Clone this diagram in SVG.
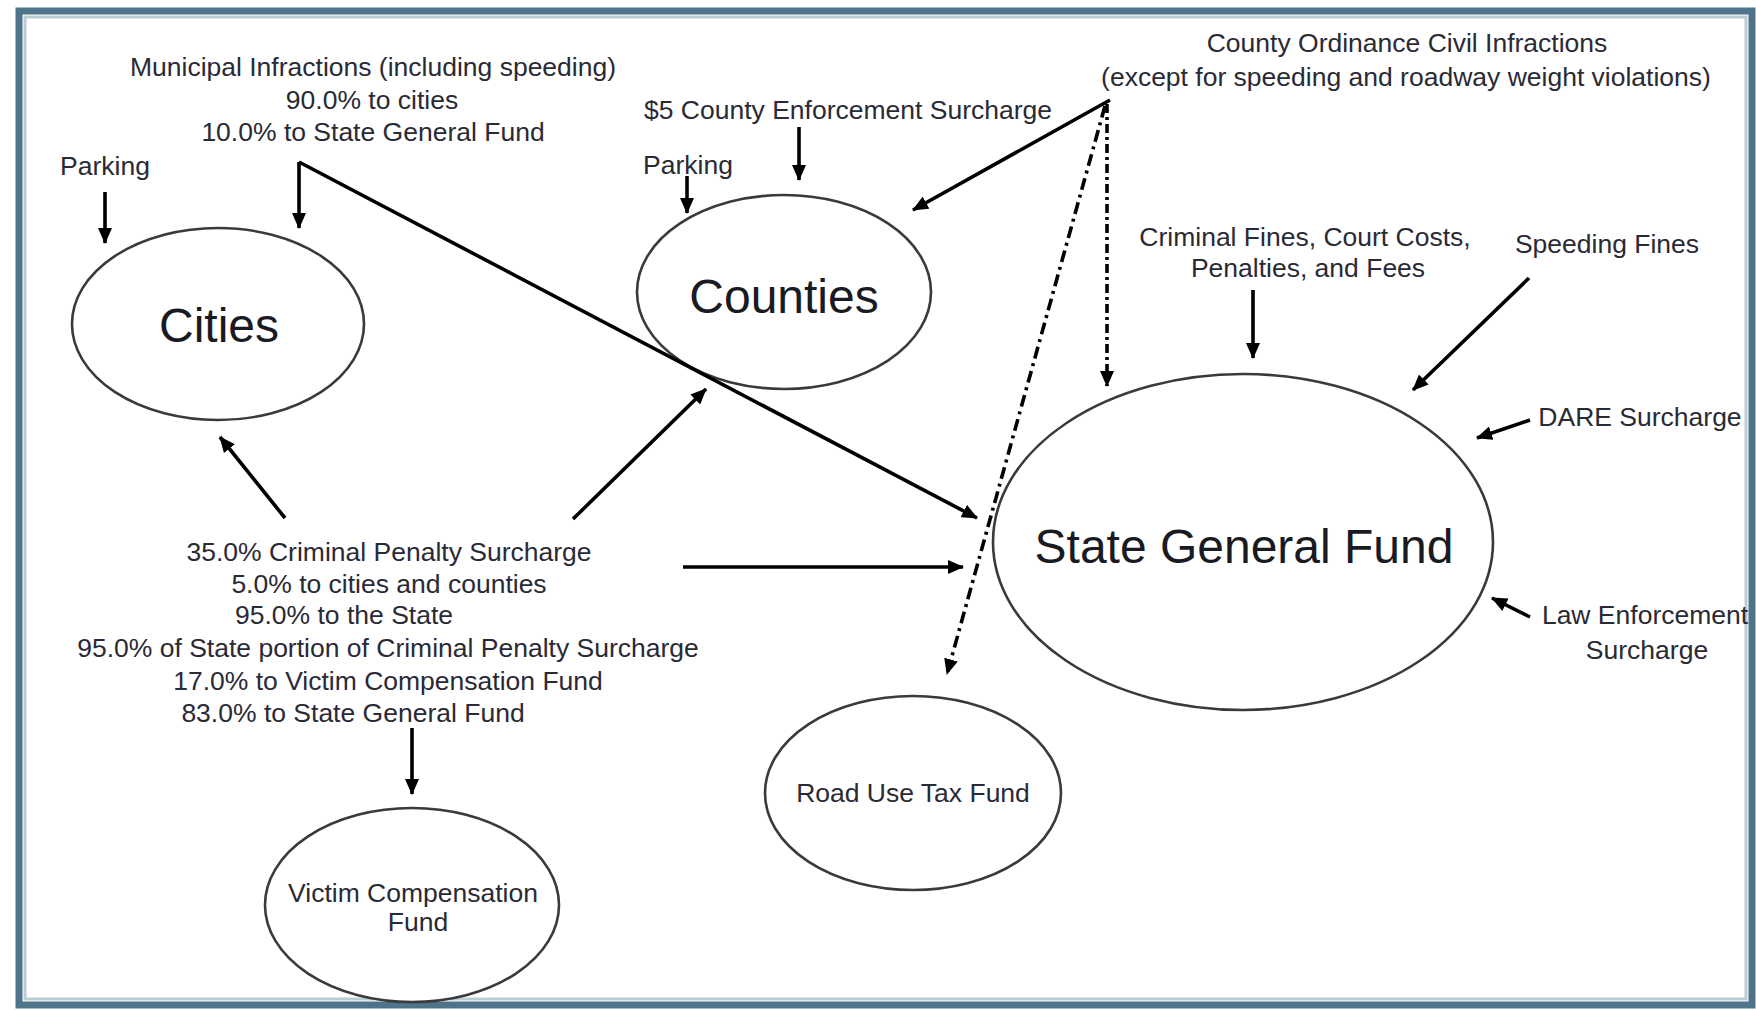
<svg xmlns="http://www.w3.org/2000/svg" width="1756" height="1010" viewBox="0 0 1756 1010">
<defs>
<marker id="ah" markerUnits="userSpaceOnUse" markerWidth="16" markerHeight="14" refX="15" refY="7" orient="auto">
<path d="M0,0 L16,7 L0,14 Z" fill="#000"/>
</marker>
<style>
.t{font-family:"Liberation Sans",Arial,sans-serif;font-size:26.5px;fill:#2a2a35;text-anchor:middle}
.big{font-family:"Liberation Sans",Arial,sans-serif;font-size:48px;fill:#1a1a22;text-anchor:middle}
.node{fill:#fff;stroke:#3a3a3a;stroke-width:2.6}
.c{stroke:#000;stroke-width:3.6;fill:none;marker-end:url(#ah)}
.dash{stroke-dasharray:9 4 3 4}
.dashdot{stroke-dasharray:12 5 3 5}
</style>
</defs>
<rect x="0" y="0" width="1756" height="1010" fill="#fff"/>
<rect x="19" y="11" width="1733" height="994" fill="none" stroke="#4f7388" stroke-width="7"/>
<rect x="25" y="17" width="1721" height="982" fill="none" stroke="#b9ccd6" stroke-width="3"/>

<g id="cities"><ellipse class="node" cx="218" cy="324" rx="146" ry="96"/><text class="big" x="219" y="342">Cities</text></g>
<g id="counties"><ellipse class="node" cx="784" cy="292" rx="147" ry="97"/><text class="big" x="784" y="313">Counties</text></g>
<g id="state-general-fund"><ellipse class="node" cx="1243" cy="542" rx="250" ry="168"/><text class="big" x="1244" y="563">State General Fund</text></g>
<g id="road-use-tax-fund"><ellipse class="node" cx="913" cy="793" rx="148" ry="97"/><text class="t" x="913" y="802">Road Use Tax Fund</text></g>
<g id="victim-compensation-fund"><ellipse class="node" cx="412" cy="905" rx="147" ry="97"/><text class="t" x="413" y="902">Victim Compensation</text><text class="t" x="418" y="931">Fund</text></g>

<g id="municipal-infractions"><text class="t" x="373" y="76">Municipal Infractions (including speeding)</text><text class="t" x="372" y="109">90.0% to cities</text><text class="t" x="373" y="141">10.0% to State General Fund</text></g>
<g id="parking-cities"><text class="t" x="105" y="175">Parking</text></g>
<g id="county-enforcement-surcharge"><text class="t" x="848" y="119">$5 County Enforcement Surcharge</text></g>
<g id="parking-counties"><text class="t" x="688" y="174">Parking</text></g>
<g id="county-ordinance"><text class="t" x="1407" y="52">County Ordinance Civil Infractions</text><text class="t" x="1406" y="86">(except for speeding and roadway weight violations)</text></g>
<g id="criminal-fines"><text class="t" x="1305" y="246">Criminal Fines, Court Costs,</text><text class="t" x="1308" y="277">Penalties, and Fees</text></g>
<g id="speeding-fines"><text class="t" x="1607" y="253">Speeding Fines</text></g>
<g id="dare-surcharge"><text class="t" x="1640" y="426">DARE Surcharge</text></g>
<g id="law-enforcement-surcharge"><text class="t" x="1645" y="624">Law Enforcement</text><text class="t" x="1647" y="659">Surcharge</text></g>
<g id="criminal-penalty-surcharge">
<text class="t" x="389" y="561">35.0% Criminal Penalty Surcharge</text>
<text class="t" x="389" y="593">5.0% to cities and counties</text>
<text class="t" x="344" y="624">95.0% to the State</text>
<text class="t" x="388" y="657">95.0% of State portion of Criminal Penalty Surcharge</text>
<text class="t" x="388" y="690">17.0% to Victim Compensation Fund</text>
<text class="t" x="353" y="722">83.0% to State General Fund</text>
</g>

<g id="connectors">
<line class="c" x1="105" y1="192" x2="105" y2="243"/>
<line class="c" x1="299" y1="162" x2="299" y2="228"/>
<line class="c" x1="299" y1="162" x2="977" y2="518"/>
<line class="c" x1="687" y1="176" x2="687" y2="213"/>
<line class="c" x1="799" y1="127" x2="799" y2="180"/>
<line class="c" x1="1110" y1="100" x2="913" y2="210"/>
<line class="c dash" x1="1107" y1="104" x2="1107" y2="386"/>
<line class="c dashdot" x1="1105" y1="106" x2="947" y2="674"/>
<line class="c" x1="1253" y1="290" x2="1253" y2="358"/>
<line class="c" x1="1529" y1="278" x2="1413" y2="390"/>
<line class="c" x1="1530" y1="420" x2="1477" y2="438"/>
<line class="c" x1="1530" y1="617" x2="1492" y2="598"/>
<line class="c" x1="285" y1="518" x2="220" y2="437"/>
<line class="c" x1="573" y1="519" x2="706" y2="389"/>
<line class="c" x1="683" y1="567" x2="963" y2="567"/>
<line class="c" x1="412" y1="728" x2="412" y2="794"/>
</g>
</svg>
